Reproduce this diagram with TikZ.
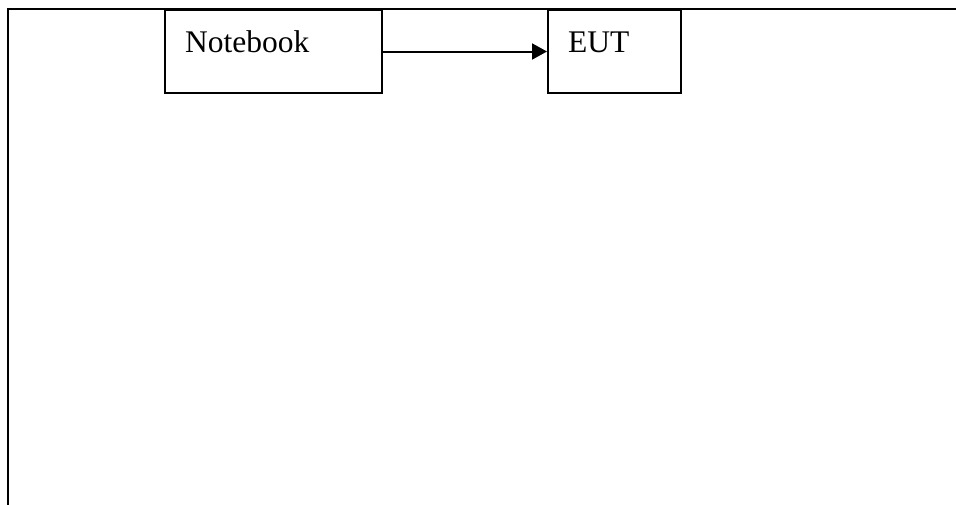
\documentclass[tikz,border=0pt]{standalone}
\usepackage{fontspec}
\setmainfont{Liberation Serif}
\usetikzlibrary{arrows.meta}
\tikzset{
  box/.style={draw, line width=2pt, minimum width=#1, minimum height=83pt, inner sep=0pt, anchor=north west},
  lbl/.style={anchor=base west, inner sep=0pt, font=\fontsize{31.5}{36}\selectfont},
  conn/.style={line width=2pt, -{Triangle[length=15pt,width=16pt]}},
  frame/.style={line width=2.5pt}
}
\begin{document}
\begin{tikzpicture}[x=1pt,y=1pt]
\useasboundingbox (0,0) rectangle (956,-504);
\coordinate (fbl) at (8,-506);
\coordinate (ftl) at (8,-9);
\coordinate (ftr) at (958,-9);
\draw[frame] (fbl) -- (ftl) -- (ftr);
\node[box=217pt] (nb) at (164,-9) {};
\node[box=133pt] (eut) at (547,-9) {};
\node[lbl] (nbt) at ([xshift=21pt,yshift=-43pt]nb.north west) {Notebook};
\node[lbl] (eutt) at ([xshift=21pt,yshift=-43pt]eut.north west) {EUT};
\draw[conn] (nb.east) -- (eut.west);
\end{tikzpicture}
\end{document}
